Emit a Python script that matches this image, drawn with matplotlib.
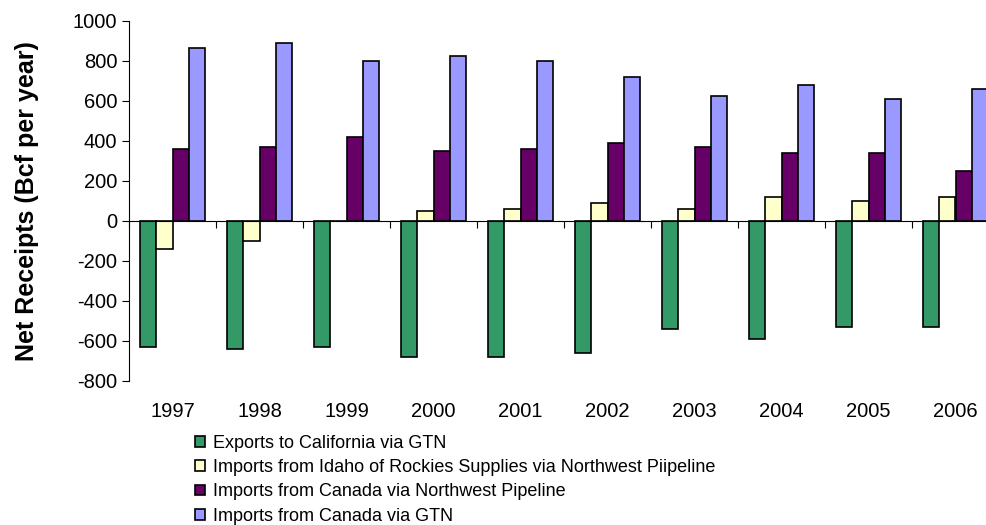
import matplotlib
matplotlib.use('Agg')
import matplotlib.pyplot as plt
import numpy as np

plt.rcParams['font.family'] = ['Liberation Sans', 'DejaVu Sans']
plt.rcParams['axes.unicode_minus'] = False

years = ['1997', '1998', '1999', '2000', '2001', '2002', '2003', '2004', '2005', '2006']
exports_ca_gtn = [-630, -640, -630, -680, -680, -660, -542, -592, -532, -532]
imports_idaho_nwp = [-140, -100, 0, 50, 58, 90, 58, 118, 98, 118]
imports_canada_nwp = [358, 369, 419, 350, 358, 388, 369, 339, 339, 248]
imports_canada_gtn = [865, 887, 798, 826, 798, 717, 626, 677, 607, 657]

labels = ['Exports to California via GTN',
          'Imports from Idaho of Rockies Supplies via Northwest Piipeline',
          'Imports from Canada via Northwest Pipeline',
          'Imports from Canada via GTN']
colors = ['#339966', '#FFFFCC', '#660066', '#9999FF']
series = [exports_ca_gtn, imports_idaho_nwp, imports_canada_nwp, imports_canada_gtn]

fig = plt.figure(figsize=(9.86, 5.25), dpi=100)
ax = fig.add_axes([129 / 986, 1 - 381 / 525, 870 / 986, (381 - 20.7) / 525])

x = np.arange(len(years))
w = 0.184
handles = []
for i, (vals, c, lab) in enumerate(zip(series, colors, labels)):
    b = ax.bar(x + (i - 1.5) * w, vals, w, color=c, edgecolor='black',
               linewidth=1.2, label=lab)
    handles.append(b)

ax.set_xlim(-0.5, len(years) - 0.5)
ax.set_ylim(-800, 1000)
ax.set_yticks(np.arange(-800, 1001, 200))
ax.tick_params(axis='y', labelsize=14.5, length=5, width=0.8, direction='out')

# category axis crosses at zero
ax.spines['top'].set_visible(False)
ax.spines['right'].set_visible(False)
ax.spines['bottom'].set_position(('data', 0))
ax.spines['bottom'].set_linewidth(0.8)
ax.spines['left'].set_linewidth(0.8)
ax.set_xticks(np.arange(-0.5, len(years), 1.0))
ax.set_xticklabels([])
ax.tick_params(axis='x', length=5, width=0.8, direction='out')
for xi, yr in zip(x, years):
    ax.text(xi, -800 - 150, yr, ha='center', va='center', fontsize=14.5,
            clip_on=False)

ax.set_ylabel('Net Receipts (Bcf per year)', fontsize=18, fontweight='bold',
              labelpad=24)

fig.legend(handles, labels, loc='upper left', bbox_to_anchor=(195 / 986, 1 - 435 / 525),
           frameon=False, fontsize=13, handlelength=0.55, handleheight=0.55,
           handletextpad=0.45, labelspacing=0.4, borderaxespad=0, borderpad=0)

fig.savefig('out.png', dpi=100)
